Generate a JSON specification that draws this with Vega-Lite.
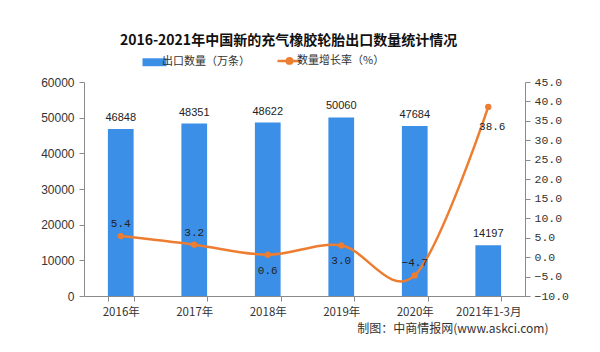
{
  "$schema": "https://vega.github.io/schema/vega-lite/v6.json",
  "width": 441,
  "height": 214,
  "autosize": {"type": "none"},
  "padding": {"left": 84, "top": 82, "right": 75, "bottom": 56},
  "background": "white",
  "config": {
    "view": {"stroke": null},
    "font": "Liberation Sans",
    "axis": {"grid": false, "domainColor": "#8a8a8a", "tickColor": "#8a8a8a", "labelColor": "#333333"}
  },
  "title": {
    "text": "2016-2021年中国新的充气橡胶轮胎出口数量统计情况",
    "font": "Noto Sans CJK SC",
    "fontSize": 14,
    "fontWeight": "bold",
    "color": "#111111",
    "anchor": "middle",
    "dx": -16,
    "offset": 7
  },
  "data": {
    "values": [
      {"year": "2016年", "count": 46848, "rate": 5.4},
      {"year": "2017年", "count": 48351, "rate": 3.2},
      {"year": "2018年", "count": 48622, "rate": 0.6},
      {"year": "2019年", "count": 50060, "rate": 3.0},
      {"year": "2020年", "count": 47684, "rate": -4.7},
      {"year": "2021年1-3月", "count": 14197, "rate": 38.6}
    ]
  },
  "encoding": {
    "x": {
      "field": "year",
      "type": "nominal",
      "sort": null,
      "scale": {"paddingInner": 0.65, "paddingOuter": 0.325},
      "axis": {
        "title": "制图：中商情报网(www.askci.com)",
        "titleFont": "Noto Sans CJK SC",
        "titleFontSize": 12,
        "titleFontWeight": "normal",
        "titleColor": "#333333",
        "titleAnchor": "end",
        "titleAlign": "right",
        "titleX": 464,
        "titleY": 32,
        "titleBaseline": "middle",
        "labelAngle": 0,
        "labelFont": "Noto Sans CJK SC",
        "labelFontSize": 11.5,
        "labelPadding": 5,
        "tickBand": "extent",
        "tickSize": 5,
        "domainColor": "#8a8a8a"
      }
    }
  },
  "layer": [
    {
      "encoding": {
        "y": {
          "field": "count",
          "type": "quantitative",
          "scale": {"domain": [0, 60000], "nice": false},
          "axis": {
            "title": null,
            "values": [0, 10000, 20000, 30000, 40000, 50000, 60000],
            "format": "d",
            "labelFontSize": 12,
            "tickSize": 5,
            "labelPadding": 5
          }
        }
      },
      "layer": [
        {
          "mark": {"type": "bar", "color": "#3b8fe6"},
          "encoding": {
            "color": {
              "datum": "出口数量（万条）",
              "type": "nominal",
              "scale": {"domain": ["出口数量（万条）", "数量增长率（%）"], "range": ["#3b8fe6", "#ed7d31"]},
              "legend": {
                "title": null,
                "orient": "none",
                "direction": "horizontal",
                "columns": 2,
                "legendX": 65,
                "legendY": -27,
                "columnPadding": 22,
                "labelFont": "Noto Sans CJK SC",
                "labelFontSize": 11,
                "labelColor": "#333333",
                "labelOffset": 2,
                "symbolSize": 576,
                "encode": {
                  "symbols": {
                    "update": {
                      "shape": {"signal": "datum.value === '出口数量（万条）' ? 'M-1,-0.33H1V0.33H-1Z' : 'M-1,0H1M-0.22,0A0.22,0.22 0 1,0 0.22,0A0.22,0.22 0 1,0 -0.22,0'"},
                      "fill": {"signal": "datum.value === '出口数量（万条）' ? '#3b8fe6' : '#ed7d31'"},
                      "stroke": {"signal": "datum.value === '出口数量（万条）' ? 'transparent' : '#ed7d31'"},
                      "strokeWidth": {"signal": "datum.value === '出口数量（万条）' ? 0 : 2.5"},
                      "opacity": {"value": 1}
                    }
                  }
                }
              }
            }
          }
        },
        {
          "mark": {"type": "text", "baseline": "bottom", "dy": -6, "fontSize": 11, "color": "#222222"},
          "encoding": {"text": {"field": "count", "type": "quantitative", "format": "d"}}
        }
      ]
    },
    {
      "encoding": {
        "y": {
          "field": "rate",
          "type": "quantitative",
          "scale": {"domain": [-10, 45], "nice": false},
          "axis": {
            "orient": "right",
            "title": null,
            "values": [-10, -5, 0, 5, 10, 15, 20, 25, 30, 35, 40, 45],
            "format": ".1f",
            "labelFont": "Liberation Mono",
            "labelFontSize": 11.5,
            "tickSize": 5,
            "labelPadding": 4
          }
        }
      },
      "layer": [
        {
          "mark": {"type": "line", "interpolate": "cardinal", "strokeWidth": 2.5},
          "encoding": {
            "color": {"datum": "数量增长率（%）", "type": "nominal"}
          }
        },
        {
          "mark": {"type": "circle", "size": 40, "opacity": 1, "color": "#ed7d31"},
          "encoding": {}
        },
        {
          "transform": [{"filter": {"field": "year", "oneOf": ["2016年", "2017年", "2020年"]}}],
          "mark": {"type": "text", "baseline": "bottom", "dy": -7, "fontSize": 11, "font": "Liberation Mono", "color": "#222222"},
          "encoding": {"text": {"field": "rate", "type": "quantitative", "format": ".1f"}}
        },
        {
          "transform": [{"filter": {"field": "year", "oneOf": ["2018年", "2019年"]}}],
          "mark": {"type": "text", "baseline": "top", "dy": 10, "fontSize": 11, "font": "Liberation Mono", "color": "#222222"},
          "encoding": {"text": {"field": "rate", "type": "quantitative", "format": ".1f"}}
        },
        {
          "transform": [{"filter": {"field": "year", "oneOf": ["2021年1-3月"]}}],
          "mark": {"type": "text", "baseline": "top", "dy": 14, "dx": 4, "fontSize": 11, "font": "Liberation Mono", "color": "#222222"},
          "encoding": {"text": {"field": "rate", "type": "quantitative", "format": ".1f"}}
        }
      ]
    }
  ],
  "resolve": {"scale": {"y": "independent"}}
}
